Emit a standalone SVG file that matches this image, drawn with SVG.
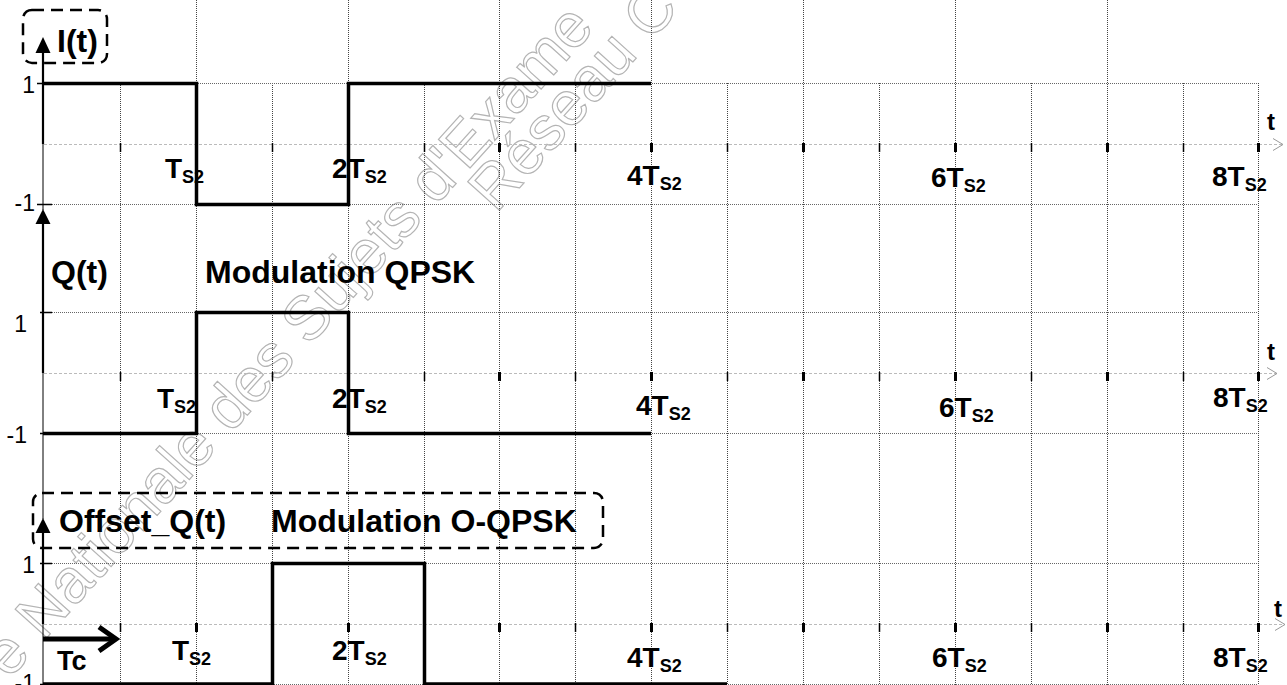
<svg xmlns="http://www.w3.org/2000/svg" width="1287" height="685" viewBox="0 0 1287 685">
<style>
.vg{stroke:#444;stroke-width:1;stroke-dasharray:1 1;fill:none}
.hg{stroke:#666;stroke-width:1;stroke-dasharray:1 1;fill:none}
.ax{stroke:#bbb;stroke-width:1;stroke-dasharray:3 2;fill:none}
.chev{stroke:#999;stroke-width:1;fill:none}
.sig{stroke:#000;stroke-width:3.5;fill:none;stroke-linejoin:miter;stroke-linecap:butt}
.yax{stroke:#000;stroke-width:2.2}
.thin{stroke:#000;stroke-width:1}
.ytk{stroke:#000;stroke-width:1.5}
.tkE{stroke:#000;stroke-width:3}
.tkO{stroke:#000;stroke-width:1.5}
.box{fill:none;stroke:#000;stroke-width:2.5;stroke-dasharray:12 7}
.lab{font-family:"Liberation Sans",Arial,sans-serif;font-weight:bold;fill:#000}
.big{font-size:32px}
.ts{font-size:28px}
.num{font-family:"Liberation Sans",Arial,sans-serif;font-size:23px;fill:#000;text-anchor:end}
.wm{font-family:"Liberation Sans",Arial,sans-serif;font-size:62px;fill:none;stroke:#b4b4b4;stroke-width:1.2}
</style>

<g id="watermark">
<text class="wm" transform="translate(9,680) rotate(-48)">e Nationale des Sujets d'Exame</text>
<text class="wm" transform="translate(496,214) rotate(-48)">Réseau C</text>
</g>

<g id="grid">
<path class="vg" d="M196.5 0V685M348.5 0V685M499.5 0V685M651.5 0V685M803.5 0V685M955.5 0V685M1107.5 0V685"/>
<path class="vg" d="M120.5 83V685M272.5 83V685M424.5 83V685M575.5 83V685M727.5 83V685M879.5 83V685M1031.5 83V685M1183.5 83V685M1258.5 83V685"/>
<path class="hg" d="M44 83.5H1258M44 204.5H1258M44 312.5H1258M44 433.5H1258M44 563.5H1258M44 684.5H1258"/>
</g>

<g id="time-axes">
<path class="ax" d="M44 144.5H1283M44 373.5H1277M44 624.5H1285"/>
<path class="chev" d="M1273 138.5L1283 144.5L1273 150.5M1267 367.5L1277 373.5L1267 379.5M1275 618.5L1285 624.5L1275 630.5"/>
<g id="ticks">
<path class="tkO" d="M120.5 143V152M272.5 143V152M424.5 143V152M575.5 143V152M727.5 143V152M879.5 143V152M1031.5 143V152M1183.5 143V152"/>
<path class="tkE" d="M196.5 143V152M348.5 143V152M499.5 143V152M651.5 143V152M803.5 143V152M955.5 143V152M1107.5 143V152M1258.5 143V152"/>
<path class="tkO" d="M120.5 372V381M272.5 372V381M424.5 372V381M575.5 372V381M727.5 372V381M879.5 372V381M1031.5 372V381M1183.5 372V381"/>
<path class="tkE" d="M196.5 372V381M348.5 372V381M499.5 372V381M651.5 372V381M803.5 372V381M955.5 372V381M1107.5 372V381M1258.5 372V381"/>
<path class="tkO" d="M120.5 623V632M272.5 623V632M424.5 623V632M575.5 623V632M727.5 623V632M879.5 623V632M1031.5 623V632M1183.5 623V632"/>
<path class="tkE" d="M196.5 623V632M348.5 623V632M499.5 623V632M651.5 623V632M803.5 623V632M955.5 623V632M1107.5 623V632M1258.5 623V632"/>
</g>
<text class="lab" x="1267" y="130" font-size="24">t</text>
<text class="lab" x="1267" y="360" font-size="24">t</text>
<text class="lab" x="1274" y="617" font-size="24">t</text>
</g>

<g id="y-axes">
<path class="thin" d="M43 144V210M43 373V519M43 624V685"/>
<path class="yax" d="M43 52V144M43 223V373M43 532V624"/>
<path d="M43 37L50.5 53L35.5 53Z M43 209L50.5 224L35.5 224Z M43 518L50.5 533L35.5 533Z" fill="#000"/>
<path class="ytk" d="M37 83.5H51M37 204.5H52M40 312.5H52M40 433.5H52M40 563.5H52M40 684.5H52"/>
<text class="num" x="35" y="93">1</text>
<text class="num" x="35" y="211">-1</text>
<text class="num" x="27" y="332">1</text>
<text class="num" x="27" y="443">-1</text>
<text class="num" x="35" y="573">1</text>
<text class="num" x="35" y="691">-1</text>
</g>

<g id="connectors">
<path class="sig" d="M43 83.5H196.5V204.5H348.5V83.5H651"/>
<path class="sig" d="M43 433.5H196.5V312.5H348.5V433.5H651"/>
<path class="sig" d="M43 684H272.5V563.5H424.5V684H727"/>
<path d="M43 639H113" stroke="#000" stroke-width="5"/>
<path d="M99 627L116 639L99 651" stroke="#000" stroke-width="5" fill="none"/>
</g>

<g id="node-I">
<rect class="box" x="23" y="10" width="84" height="53" rx="9"/>
<text class="lab big" x="57" y="52">I(t)</text>
</g>

<g id="node-Q">
<text class="lab big" x="51" y="283">Q(t)</text>
<text class="lab big" x="205" y="283">Modulation QPSK</text>
</g>

<g id="node-offset">
<rect class="box" x="33" y="493" width="570" height="55" rx="9"/>
<text class="lab big" x="59" y="532">Offset_Q(t)</text>
<text class="lab big" x="271" y="532">Modulation O-QPSK</text>
<text class="lab" x="57" y="670" font-size="27">Tc</text>
</g>

<g id="labels-I" class="lab">
<text class="ts" x="165" y="178">T<tspan dy="5" font-size="18">S2</tspan></text>
<text class="ts" x="332" y="178">2T<tspan dy="5" font-size="18">S2</tspan></text>
<text class="ts" x="627" y="185">4T<tspan dy="5" font-size="18">S2</tspan></text>
<text class="ts" x="931" y="187">6T<tspan dy="5" font-size="18">S2</tspan></text>
<text class="ts" x="1212" y="186">8T<tspan dy="5" font-size="18">S2</tspan></text>
</g>
<g id="labels-Q" class="lab">
<text class="ts" x="157" y="408">T<tspan dy="5" font-size="18">S2</tspan></text>
<text class="ts" x="332" y="408">2T<tspan dy="5" font-size="18">S2</tspan></text>
<text class="ts" x="636" y="415">4T<tspan dy="5" font-size="18">S2</tspan></text>
<text class="ts" x="939" y="417">6T<tspan dy="5" font-size="18">S2</tspan></text>
<text class="ts" x="1213" y="407">8T<tspan dy="5" font-size="18">S2</tspan></text>
</g>
<g id="labels-offset" class="lab">
<text class="ts" x="172" y="660">T<tspan dy="5" font-size="18">S2</tspan></text>
<text class="ts" x="332" y="660">2T<tspan dy="5" font-size="18">S2</tspan></text>
<text class="ts" x="627" y="667">4T<tspan dy="5" font-size="18">S2</tspan></text>
<text class="ts" x="932" y="667">6T<tspan dy="5" font-size="18">S2</tspan></text>
<text class="ts" x="1213" y="667">8T<tspan dy="5" font-size="18">S2</tspan></text>
</g>
</svg>
